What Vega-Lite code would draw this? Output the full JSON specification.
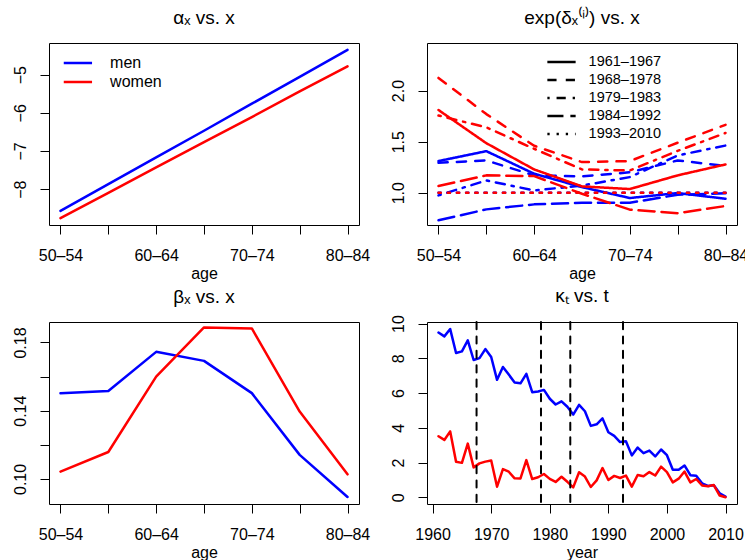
{
  "$schema": "https://vega.github.io/schema/vega-lite/v6.json",
  "background": "white",
  "padding": {"left": 12, "top": 8, "right": 0, "bottom": 0},
  "config": {
    "font": "Liberation Sans",
    "view": {"stroke": "#000000", "strokeWidth": 1},
    "axis": {"domain": false, "grid": false, "tickColor": "#000000", "tickSize": 9, "tickWidth": 1, "labelFont": "Liberation Sans", "labelFontSize": 16, "labelColor": "#000000", "labelOverlap": false, "titleFont": "Liberation Sans", "titleFontSize": 16, "titleFontWeight": "normal", "titleColor": "#000000"},
    "axisX": {"labelAngle": 0, "labelPadding": 26, "labelBaseline": "alphabetic", "titleBaseline": "alphabetic", "titleY": 53},
    "axisY": {"labelAngle": -90, "labelAlign": "center", "labelBaseline": "alphabetic", "labelPadding": 14.3},
    "title": {"font": "Liberation Sans", "fontSize": 19, "fontWeight": "normal", "color": "#000000", "baseline": "alphabetic", "offset": 15.5}
  },
  "datasets": {
    "alpha": [
      {"age": "50–54", "sex": "men", "value": -8.57}, {"age": "55–59", "sex": "men", "value": -7.87}, {"age": "60–64", "sex": "men", "value": -7.17}, {"age": "65–69", "sex": "men", "value": -6.47}, {"age": "70–74", "sex": "men", "value": -5.76}, {"age": "75–79", "sex": "men", "value": -5.06}, {"age": "80–84", "sex": "men", "value": -4.35},
      {"age": "50–54", "sex": "women", "value": -8.76}, {"age": "55–59", "sex": "women", "value": -8.10}, {"age": "60–64", "sex": "women", "value": -7.43}, {"age": "65–69", "sex": "women", "value": -6.77}, {"age": "70–74", "sex": "women", "value": -6.11}, {"age": "75–79", "sex": "women", "value": -5.44}, {"age": "80–84", "sex": "women", "value": -4.78}
    ],
    "beta": [
      {"age": "50–54", "sex": "men", "value": 0.1503}, {"age": "55–59", "sex": "men", "value": 0.1516}, {"age": "60–64", "sex": "men", "value": 0.1745}, {"age": "65–69", "sex": "men", "value": 0.1692}, {"age": "70–74", "sex": "men", "value": 0.1503}, {"age": "75–79", "sex": "men", "value": 0.1141}, {"age": "80–84", "sex": "men", "value": 0.0894},
      {"age": "50–54", "sex": "women", "value": 0.1043}, {"age": "55–59", "sex": "women", "value": 0.1158}, {"age": "60–64", "sex": "women", "value": 0.1600}, {"age": "65–69", "sex": "women", "value": 0.1888}, {"age": "70–74", "sex": "women", "value": 0.1882}, {"age": "75–79", "sex": "women", "value": 0.1395}, {"age": "80–84", "sex": "women", "value": 0.1027}
    ],
    "delta": [
      {"sex": "men", "period": "1961–1967", "age": "50–54", "value": 1.31}, {"sex": "men", "period": "1961–1967", "age": "55–59", "value": 1.407}, {"sex": "men", "period": "1961–1967", "age": "60–64", "value": 1.186}, {"sex": "men", "period": "1961–1967", "age": "65–69", "value": 1.055}, {"sex": "men", "period": "1961–1967", "age": "70–74", "value": 0.948}, {"sex": "men", "period": "1961–1967", "age": "75–79", "value": 0.997}, {"sex": "men", "period": "1961–1967", "age": "80–84", "value": 0.941},
      {"sex": "men", "period": "1968–1978", "age": "50–54", "value": 1.293}, {"sex": "men", "period": "1968–1978", "age": "55–59", "value": 1.316}, {"sex": "men", "period": "1968–1978", "age": "60–64", "value": 1.17}, {"sex": "men", "period": "1968–1978", "age": "65–69", "value": 1.16}, {"sex": "men", "period": "1968–1978", "age": "70–74", "value": 1.2}, {"sex": "men", "period": "1968–1978", "age": "75–79", "value": 1.316}, {"sex": "men", "period": "1968–1978", "age": "80–84", "value": 1.262},
      {"sex": "men", "period": "1979–1983", "age": "50–54", "value": 0.974}, {"sex": "men", "period": "1979–1983", "age": "55–59", "value": 1.12}, {"sex": "men", "period": "1979–1983", "age": "60–64", "value": 1.022}, {"sex": "men", "period": "1979–1983", "age": "65–69", "value": 1.07}, {"sex": "men", "period": "1979–1983", "age": "70–74", "value": 1.153}, {"sex": "men", "period": "1979–1983", "age": "75–79", "value": 1.365}, {"sex": "men", "period": "1979–1983", "age": "80–84", "value": 1.462},
      {"sex": "men", "period": "1984–1992", "age": "50–54", "value": 0.73}, {"sex": "men", "period": "1984–1992", "age": "55–59", "value": 0.837}, {"sex": "men", "period": "1984–1992", "age": "60–64", "value": 0.886}, {"sex": "men", "period": "1984–1992", "age": "65–69", "value": 0.902}, {"sex": "men", "period": "1984–1992", "age": "70–74", "value": 0.902}, {"sex": "men", "period": "1984–1992", "age": "75–79", "value": 0.98}, {"sex": "men", "period": "1984–1992", "age": "80–84", "value": 0.995},
      {"sex": "men", "period": "1993–2010", "age": "50–54", "value": 1.0}, {"sex": "men", "period": "1993–2010", "age": "55–59", "value": 1.0}, {"sex": "men", "period": "1993–2010", "age": "60–64", "value": 1.0}, {"sex": "men", "period": "1993–2010", "age": "65–69", "value": 1.0}, {"sex": "men", "period": "1993–2010", "age": "70–74", "value": 1.0}, {"sex": "men", "period": "1993–2010", "age": "75–79", "value": 1.0}, {"sex": "men", "period": "1993–2010", "age": "80–84", "value": 1.0},
      {"sex": "women", "period": "1961–1967", "age": "50–54", "value": 1.81}, {"sex": "women", "period": "1961–1967", "age": "55–59", "value": 1.485}, {"sex": "women", "period": "1961–1967", "age": "60–64", "value": 1.228}, {"sex": "women", "period": "1961–1967", "age": "65–69", "value": 1.062}, {"sex": "women", "period": "1961–1967", "age": "70–74", "value": 1.036}, {"sex": "women", "period": "1961–1967", "age": "75–79", "value": 1.17}, {"sex": "women", "period": "1961–1967", "age": "80–84", "value": 1.277},
      {"sex": "women", "period": "1968–1978", "age": "50–54", "value": 2.124}, {"sex": "women", "period": "1968–1978", "age": "55–59", "value": 1.77}, {"sex": "women", "period": "1968–1978", "age": "60–64", "value": 1.46}, {"sex": "women", "period": "1968–1978", "age": "65–69", "value": 1.30}, {"sex": "women", "period": "1968–1978", "age": "70–74", "value": 1.31}, {"sex": "women", "period": "1968–1978", "age": "75–79", "value": 1.49}, {"sex": "women", "period": "1968–1978", "age": "80–84", "value": 1.665},
      {"sex": "women", "period": "1979–1983", "age": "50–54", "value": 1.756}, {"sex": "women", "period": "1979–1983", "age": "55–59", "value": 1.64}, {"sex": "women", "period": "1979–1983", "age": "60–64", "value": 1.43}, {"sex": "women", "period": "1979–1983", "age": "65–69", "value": 1.228}, {"sex": "women", "period": "1979–1983", "age": "70–74", "value": 1.218}, {"sex": "women", "period": "1979–1983", "age": "75–79", "value": 1.41}, {"sex": "women", "period": "1979–1983", "age": "80–84", "value": 1.585},
      {"sex": "women", "period": "1984–1992", "age": "50–54", "value": 1.065}, {"sex": "women", "period": "1984–1992", "age": "55–59", "value": 1.17}, {"sex": "women", "period": "1984–1992", "age": "60–64", "value": 1.163}, {"sex": "women", "period": "1984–1992", "age": "65–69", "value": 0.99}, {"sex": "women", "period": "1984–1992", "age": "70–74", "value": 0.834}, {"sex": "women", "period": "1984–1992", "age": "75–79", "value": 0.80}, {"sex": "women", "period": "1984–1992", "age": "80–84", "value": 0.87},
      {"sex": "women", "period": "1993–2010", "age": "50–54", "value": 1.0}, {"sex": "women", "period": "1993–2010", "age": "55–59", "value": 1.0}, {"sex": "women", "period": "1993–2010", "age": "60–64", "value": 1.0}, {"sex": "women", "period": "1993–2010", "age": "65–69", "value": 1.0}, {"sex": "women", "period": "1993–2010", "age": "70–74", "value": 1.0}, {"sex": "women", "period": "1993–2010", "age": "75–79", "value": 1.0}, {"sex": "women", "period": "1993–2010", "age": "80–84", "value": 1.0}
    ],
    "kappa": [
      {"year": 1961, "sex": "men", "value": 9.48}, {"year": 1962, "sex": "men", "value": 9.26}, {"year": 1963, "sex": "men", "value": 9.68}, {"year": 1964, "sex": "men", "value": 8.30}, {"year": 1965, "sex": "men", "value": 8.40}, {"year": 1966, "sex": "men", "value": 9.03}, {"year": 1967, "sex": "men", "value": 7.90}, {"year": 1968, "sex": "men", "value": 8.01}, {"year": 1969, "sex": "men", "value": 8.53}, {"year": 1970, "sex": "men", "value": 8.07},
      {"year": 1971, "sex": "men", "value": 6.76}, {"year": 1972, "sex": "men", "value": 7.50}, {"year": 1973, "sex": "men", "value": 7.06}, {"year": 1974, "sex": "men", "value": 6.61}, {"year": 1975, "sex": "men", "value": 6.56}, {"year": 1976, "sex": "men", "value": 7.10}, {"year": 1977, "sex": "men", "value": 6.05}, {"year": 1978, "sex": "men", "value": 6.09}, {"year": 1979, "sex": "men", "value": 6.18}, {"year": 1980, "sex": "men", "value": 5.67},
      {"year": 1981, "sex": "men", "value": 5.34}, {"year": 1982, "sex": "men", "value": 5.52}, {"year": 1983, "sex": "men", "value": 5.21}, {"year": 1984, "sex": "men", "value": 4.76}, {"year": 1985, "sex": "men", "value": 5.32}, {"year": 1986, "sex": "men", "value": 4.95}, {"year": 1987, "sex": "men", "value": 4.11}, {"year": 1988, "sex": "men", "value": 4.20}, {"year": 1989, "sex": "men", "value": 4.54}, {"year": 1990, "sex": "men", "value": 3.74},
      {"year": 1991, "sex": "men", "value": 3.53}, {"year": 1992, "sex": "men", "value": 3.18}, {"year": 1993, "sex": "men", "value": 3.22}, {"year": 1994, "sex": "men", "value": 2.41}, {"year": 1995, "sex": "men", "value": 2.86}, {"year": 1996, "sex": "men", "value": 2.54}, {"year": 1997, "sex": "men", "value": 2.69}, {"year": 1998, "sex": "men", "value": 2.35}, {"year": 1999, "sex": "men", "value": 2.75}, {"year": 2000, "sex": "men", "value": 2.42},
      {"year": 2001, "sex": "men", "value": 1.58}, {"year": 2002, "sex": "men", "value": 1.58}, {"year": 2003, "sex": "men", "value": 1.83}, {"year": 2004, "sex": "men", "value": 1.27}, {"year": 2005, "sex": "men", "value": 1.24}, {"year": 2006, "sex": "men", "value": 0.80}, {"year": 2007, "sex": "men", "value": 0.65}, {"year": 2008, "sex": "men", "value": 0.69}, {"year": 2009, "sex": "men", "value": 0.23}, {"year": 2010, "sex": "men", "value": 0.04},
      {"year": 1961, "sex": "women", "value": 3.51}, {"year": 1962, "sex": "women", "value": 3.30}, {"year": 1963, "sex": "women", "value": 3.79}, {"year": 1964, "sex": "women", "value": 2.04}, {"year": 1965, "sex": "women", "value": 1.98}, {"year": 1966, "sex": "women", "value": 3.09}, {"year": 1967, "sex": "women", "value": 1.72}, {"year": 1968, "sex": "women", "value": 1.95}, {"year": 1969, "sex": "women", "value": 2.05}, {"year": 1970, "sex": "women", "value": 2.12},
      {"year": 1971, "sex": "women", "value": 0.61}, {"year": 1972, "sex": "women", "value": 1.62}, {"year": 1973, "sex": "women", "value": 1.47}, {"year": 1974, "sex": "women", "value": 1.09}, {"year": 1975, "sex": "women", "value": 1.08}, {"year": 1976, "sex": "women", "value": 2.14}, {"year": 1977, "sex": "women", "value": 1.05}, {"year": 1978, "sex": "women", "value": 1.15}, {"year": 1979, "sex": "women", "value": 1.34}, {"year": 1980, "sex": "women", "value": 1.06},
      {"year": 1981, "sex": "women", "value": 0.88}, {"year": 1982, "sex": "women", "value": 1.18}, {"year": 1983, "sex": "women", "value": 0.89}, {"year": 1984, "sex": "women", "value": 0.57}, {"year": 1985, "sex": "women", "value": 1.44}, {"year": 1986, "sex": "women", "value": 1.19}, {"year": 1987, "sex": "women", "value": 0.59}, {"year": 1988, "sex": "women", "value": 0.97}, {"year": 1989, "sex": "women", "value": 1.68}, {"year": 1990, "sex": "women", "value": 0.99},
      {"year": 1991, "sex": "women", "value": 1.23}, {"year": 1992, "sex": "women", "value": 1.11}, {"year": 1993, "sex": "women", "value": 1.25}, {"year": 1994, "sex": "women", "value": 0.61}, {"year": 1995, "sex": "women", "value": 1.28}, {"year": 1996, "sex": "women", "value": 1.21}, {"year": 1997, "sex": "women", "value": 1.45}, {"year": 1998, "sex": "women", "value": 1.25}, {"year": 1999, "sex": "women", "value": 1.76}, {"year": 2000, "sex": "women", "value": 1.45},
      {"year": 2001, "sex": "women", "value": 0.86}, {"year": 2002, "sex": "women", "value": 1.07}, {"year": 2003, "sex": "women", "value": 1.48}, {"year": 2004, "sex": "women", "value": 0.86}, {"year": 2005, "sex": "women", "value": 1.05}, {"year": 2006, "sex": "women", "value": 0.68}, {"year": 2007, "sex": "women", "value": 0.63}, {"year": 2008, "sex": "women", "value": 0.70}, {"year": 2009, "sex": "women", "value": 0.10}, {"year": 2010, "sex": "women", "value": 0.0}
    ],
    "breaks": [{"year": 1967.5}, {"year": 1978.5}, {"year": 1983.5}, {"year": 1992.5}]
  },
  "columns": 2,
  "spacing": {"row": 97, "column": 68},
  "bounds": "flush",
  "concat": [
    {
      "width": 310, "height": 182,
      "title": {"text": "αₓ vs. x"},
      "data": {"name": "alpha"},
      "mark": {"type": "line", "strokeWidth": 2.5, "strokeCap": "round", "strokeJoin": "round"},
      "encoding": {
        "x": {"field": "age", "type": "ordinal", "scale": {"type": "point", "padding": 0.24},
              "axis": {"title": "age", "labelExpr": "indexof(['50–54','60–64','70–74','80–84'], datum.value) >= 0 ? datum.label : ''"}},
        "y": {"field": "value", "type": "quantitative", "scale": {"domain": [-8.94, -4.17], "nice": false, "zero": false},
              "axis": {"title": null, "values": [-8, -7, -6, -5], "format": "d"}},
        "color": {"field": "sex", "type": "nominal", "scale": {"domain": ["men", "women"], "range": ["#0000FF", "#FF0000"]},
                  "legend": {"orient": "none", "legendX": 13.4, "legendY": 10.5, "title": null, "symbolType": "stroke", "symbolSize": 800, "symbolStrokeWidth": 2.5, "labelFont": "Liberation Sans", "labelFontSize": 16, "labelColor": "#000000", "labelOffset": 16.7, "clipHeight": 19, "rowPadding": 0, "padding": 0}}
      }
    },
    {
      "width": 310, "height": 182,
      "title": {"text": "exp(δₓ⁽ⁱ⁾) vs. x"},
      "data": {"name": "delta"},
      "encoding": {
        "x": {"field": "age", "type": "ordinal", "scale": {"type": "point", "padding": 0.24},
              "axis": {"title": "age", "labelExpr": "indexof(['50–54','60–64','70–74','80–84'], datum.value) >= 0 ? datum.label : ''"}},
        "y": {"field": "value", "type": "quantitative", "scale": {"domain": [0.684, 2.466], "nice": false, "zero": false},
              "axis": {"title": null, "values": [1, 1.5, 2], "format": ".1f"}},
        "strokeDash": {"field": "period", "type": "nominal",
                       "scale": {"domain": ["1961–1967", "1968–1978", "1979–1983", "1984–1992", "1993–2010"], "range": [[1, 0], [9.2, 9.2], [2.3, 6.9, 9.2, 6.9], [16.1, 6.9], [2.3, 6.9]]},
                       "legend": {"orient": "none", "legendX": 497, "legendY": 10.3, "title": null, "symbolType": "stroke", "symbolSize": 800, "symbolStrokeWidth": 2.5, "symbolStrokeColor": "#000000", "labelFont": "Liberation Sans", "labelFontSize": 14.5, "labelColor": "#000000", "labelOffset": 11.6, "clipHeight": 17.35, "rowPadding": 0, "padding": 0}}
      },
      "layer": [
        {"transform": [{"filter": "datum.sex === 'men'"}], "mark": {"type": "line", "color": "#0000FF", "strokeWidth": 2.5, "strokeCap": "round", "strokeJoin": "round"}},
        {"transform": [{"filter": "datum.sex === 'women'"}], "mark": {"type": "line", "color": "#FF0000", "strokeWidth": 2.5, "strokeCap": "round", "strokeJoin": "round"}}
      ]
    },
    {
      "width": 310, "height": 182,
      "title": {"text": "βₓ vs. x"},
      "data": {"name": "beta"},
      "mark": {"type": "line", "strokeWidth": 2.5, "strokeCap": "round", "strokeJoin": "round"},
      "encoding": {
        "x": {"field": "age", "type": "ordinal", "scale": {"type": "point", "padding": 0.24},
              "axis": {"title": "age", "labelExpr": "indexof(['50–54','60–64','70–74','80–84'], datum.value) >= 0 ? datum.label : ''"}},
        "y": {"field": "value", "type": "quantitative", "scale": {"domain": [0.0853, 0.192], "nice": false, "zero": false},
              "axis": {"title": null, "values": [0.10, 0.12, 0.14, 0.16, 0.18], "format": ".2f", "labelExpr": "(abs(datum.value - 0.12) < 0.001 || abs(datum.value - 0.16) < 0.001) ? '' : datum.label"}},
        "color": {"field": "sex", "type": "nominal", "scale": {"domain": ["men", "women"], "range": ["#0000FF", "#FF0000"]}, "legend": null}
      }
    },
    {
      "width": 310, "height": 182,
      "title": {"text": "κₜ vs. t", "offset": 8.2},
      "layer": [
        {
          "data": {"name": "kappa"},
          "mark": {"type": "line", "strokeWidth": 2.5, "strokeCap": "round", "strokeJoin": "round"},
          "encoding": {
            "x": {"field": "year", "type": "quantitative", "scale": {"domain": [1959.04, 2011.96], "nice": false, "zero": false},
                  "axis": {"title": "year", "values": [1960, 1970, 1980, 1990, 2000, 2010], "format": "d"}},
            "y": {"field": "value", "type": "quantitative", "scale": {"domain": [-0.388, 10.088], "nice": false, "zero": false},
                  "axis": {"title": null, "values": [0, 2, 4, 6, 8, 10], "format": "d"}},
            "color": {"field": "sex", "type": "nominal", "scale": {"domain": ["men", "women"], "range": ["#0000FF", "#FF0000"]}, "legend": null}
          }
        },
        {
          "data": {"name": "breaks"},
          "mark": {"type": "rule", "color": "#000000", "strokeWidth": 2, "strokeDash": [7.2, 7.2], "strokeCap": "round"},
          "encoding": {"x": {"field": "year", "type": "quantitative"}}
        }
      ]
    }
  ]
}
